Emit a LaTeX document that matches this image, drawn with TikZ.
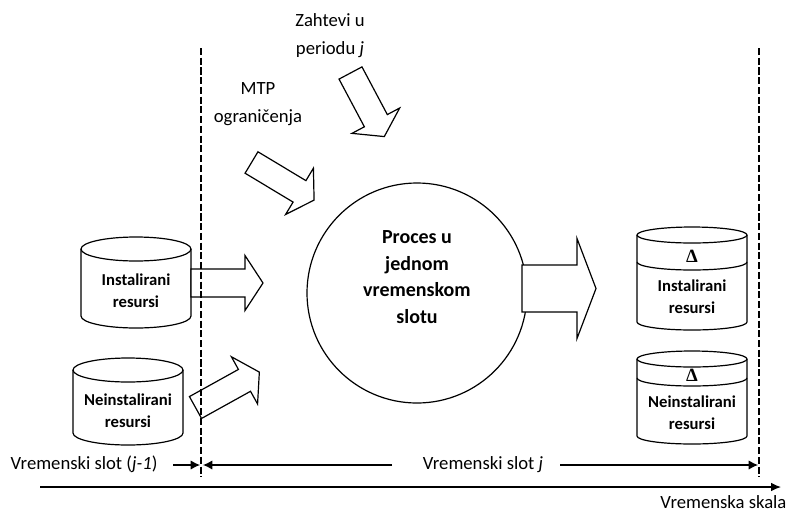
\documentclass[tikz,border=0pt]{standalone}
\usepackage{fontspec}
\setmainfont{Carlito}
\newfontfamily\deltafont{Liberation Serif}
\usetikzlibrary{arrows.meta}
\newcommand\mycyl[5]{% cx, top ellipse cy, bottom ellipse cy, rx, ry
  \draw[fill=white] (#1-#4,#2) -- (#1-#4,#3) arc[start angle=180,end angle=0,x radius=#4,y radius=#5] -- (#1+#4,#2);
  \draw (#1,#2) ellipse [x radius=#4, y radius=#5];
}
\newcommand\mydiv[4]{% cx, cy, rx, ry
  \draw (#1-#3,#2) arc[start angle=180,end angle=0,x radius=#3,y radius=#4];
}
\newcommand\blockarr[7]{% x, y, angle, length, shaft half, head half, head length
  \begin{scope}[shift={(#1,#2)},rotate=#3]
    \draw[fill=white,line join=miter] (0,#5) -- ({#4-#7},#5) -- ({#4-#7},#6) -- (#4,0) -- ({#4-#7},-#6) -- ({#4-#7},-#5) -- (0,-#5) -- cycle;
  \end{scope}
}
\begin{document}
\begin{tikzpicture}[x=0.75pt,y=-0.75pt,line width=0.9pt,
  lbl/.style={font=\fontsize{14}{21}\selectfont,inner sep=0pt,align=center},
  cyltxt/.style={font=\bfseries\fontsize{12.5}{16.5}\selectfont,inner sep=0pt,align=center},
  proctxt/.style={font=\bfseries\fontsize{15}{20}\selectfont,inner sep=0pt,align=center},
  deltatxt/.style={font=\deltafont\bfseries\fontsize{14}{14}\selectfont,inner sep=0pt},
  slotarrow/.style={-{Latex[length=7pt,width=7pt]},line width=0.9pt},
  axisarrow/.style={-{Latex[length=7.5pt,width=6.5pt]},line width=0.9pt},
  slotline/.style={dash pattern=on 5.3pt off 2pt,line width=0.9pt}]
\useasboundingbox (0,0) rectangle (788,511);

% circle
\node[circle,draw,minimum size=220*0.75pt,inner sep=0pt] (proc) at (417,293) {};
\node[proctxt] (proct) at (417,277) {Proces u\\jednom\\vremenskom\\slotu};

% left cylinders
\mycyl{136}{249}{316}{55}{12}
\node[cyltxt] (inst) at (136,291) {Instalirani\\resursi};
\mycyl{128}{370}{433}{55}{12}
\node[cyltxt] (neinst) at (128,410.5) {Neinstalirani\\resursi};

% right cylinders
\mycyl{692}{235}{322}{55}{8}
\mydiv{692}{262}{55}{8}
\node[deltatxt] (d1) at (692,256) {Δ};
\node[cyltxt] (inst2) at (692,297) {Instalirani\\resursi};
\mycyl{692}{359}{436}{55}{8}
\mydiv{692}{378}{55}{8}
\node[deltatxt] (d2) at (692,375) {Δ};
\node[cyltxt] (neinst2) at (692,412.5) {Neinstalirani\\resursi};

% block arrows
\blockarr{191}{283}{0}{72}{14}{27.5}{18}
\blockarr{195.5}{407.5}{29}{73}{12.5}{27}{17}
\blockarr{251.5}{162.5}{-31}{73}{12.5}{27}{17}
\blockarr{350.5}{73}{-62}{72}{13}{27}{18}
\blockarr{522}{288.5}{0}{74}{23.5}{50}{19}

% top labels
\node[lbl] (zaht) at (330,36) {Zahtevi u\\periodu \textit{j}};
\node[lbl] (mtp) at (258,104) {MTP\\ograničenja};

% dashed slot boundaries
\coordinate (dLt) at (201,48); \coordinate (dLb) at (201,477);
\coordinate (dRt) at (759,48); \coordinate (dRb) at (759,477);
\draw[slotline] (dLt) -- (dLb);
\draw[slotline] (dRt) -- (dRb);

% slot labels
\node[lbl,anchor=base west] (slotprev) at (10,469) {Vremenski slot (\textit{j-1})};
\coordinate (a1s) at (173,465); \coordinate (a1e) at (200,465);
\draw[slotarrow] (a1s) -- (a1e);
\node[lbl,anchor=base] (slotj) at (483,469) {Vremenski slot \textit{j}};
\coordinate (a2s) at (392,465); \coordinate (a2e) at (203,465);
\draw[slotarrow] (a2s) -- (a2e);
\coordinate (a3s) at (560,465); \coordinate (a3e) at (758,465);
\draw[slotarrow] (a3s) -- (a3e);

% time axis
\coordinate (axL) at (40,487); \coordinate (axR) at (781,487);
\draw[axisarrow] (axL) -- (axR);
\node[lbl,anchor=base east] (skala) at (787,508) {Vremenska skala};
\end{tikzpicture}
\end{document}
